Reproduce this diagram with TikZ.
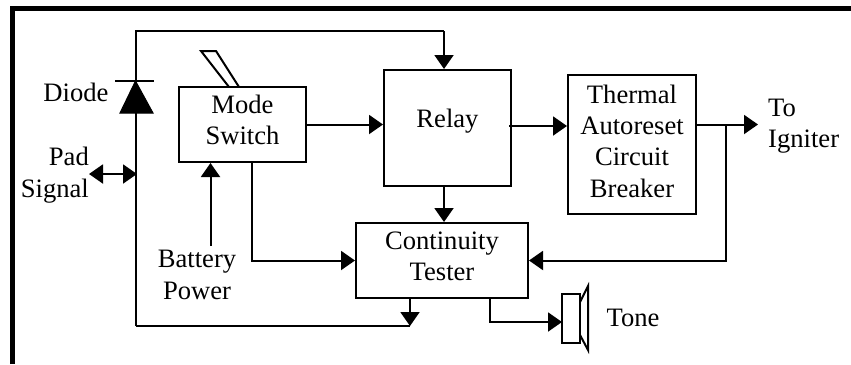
\documentclass[tikz,border=0pt]{standalone}
\usepackage{fontspec}
\setmainfont{Liberation Serif}
\usetikzlibrary{arrows.meta}
\tikzset{
  lbl/.style={font=\fontsize{26.6}{31.3}\selectfont,inner sep=0pt,align=center},
  blockbox/.style={lbl,draw,line width=2pt,line join=miter},
  wire/.style={line width=2pt,line join=miter},
  sig/.style={wire,-{Triangle[length=14pt,width=19pt]}},
  sigboth/.style={wire,{Triangle[length=14pt,width=19pt]}-{Triangle[length=14pt,width=19pt]}}
}

\begin{document}
\begin{tikzpicture}[x=1pt,y=-1pt]
    \useasboundingbox (0,0) rectangle (851,364);
    % frame, open on the right and at the bottom
    \draw [line width=5pt] (12.5,364)-- (12.5,8.5)-- (851,8.5);

    \node [blockbox,minimum width=127pt,minimum height=75pt,text depth=10pt] (modesw) at (242.5,124.5) {Mode\\Switch};
    \node [blockbox,minimum width=127pt,minimum height=116pt,text depth=20pt] (relay) at (447.5,128) {Relay};
    \node [blockbox,minimum width=128pt,minimum height=139pt,text depth=7pt] (breaker) at (632,144.5) {Thermal\\Autoreset\\Circuit\\Breaker};
    \node [blockbox,minimum width=172pt,minimum height=75pt,text depth=8pt] (tester) at (442,260.5) {Continuity\\Tester};

    \node [lbl] (diodelbl) at (76,92) {Diode};
    \node [lbl,align=right,anchor=east] (padlbl) at (89,175) {Pad\\Signal};
    \node [lbl] (battery) at (197,275) {Battery\\Power};
    \node [lbl,align=left,anchor=west] (igniter) at (768,126.5) {To\\Igniter};
    \node [lbl] (tonelbl) at (633,318) {Tone};

    \coordinate (topleft) at (135.5,31);
    \coordinate (topright) at (444,31);
    \coordinate (botleft) at (135.5,326);
    \coordinate (botright) at (410,326);
    \coordinate (pad) at (89,174);
    \coordinate (padend) at (137,174);
    \coordinate (junc) at (725.5,124.5);
    \coordinate (igout) at (758,124.5);
    \coordinate (batt) at (210.5,246);
    \coordinate (relayout) at (509,126);
    \coordinate (testout) at (490,298);
    \coordinate (testbot) at (410,298);
    \coordinate (spkin) at (562,322);

    % diode and the long wire on the left
    \draw [wire] (botleft)-- (topleft)-- (topright);
    \fill [draw,line width=1pt,line join=miter] (135.5,81)-- (153,113)-- (120,113)-- cycle;
    \draw [wire] (115,81)-- (153.5,81);
    \draw [sig] (topright)-- (topright |- relay.north);
    \draw [sigboth] (pad)-- (padend);

    % switch lever
    \draw [wire] (229,87)-- (201,51)-- (216,51)-- (239,87);

    % signal paths
    \draw [sig] (batt)-- (210.5,163);
    \draw [sig] (modesw.east)-- (modesw.east -| relay.west);
    \draw [sig] (relayout)-- (relayout -| breaker.west);
    \draw [sig] (topright |- relay.south)-- (topright |- tester.north);
    \draw [sig] (breaker.east |- junc)-- (igout);
    \draw [sig] (junc)-- (junc |- tester.east)-- (tester.east);
    \draw [sig] (251.5,162)-- (251.5,260.5)-- (tester.west);
    \draw [wire] (botleft)-- (botright);
    \draw [sig] (testbot)-- (botright);
    \draw [sig] (testout)-- (testout |- spkin)-- (spkin);

    % speaker
    \draw [wire] (562,294) rectangle (580,343);
    \draw [wire] (580,302)-- (588,286)-- (588,350)-- (580,335);
\end{tikzpicture}
\end{document}
